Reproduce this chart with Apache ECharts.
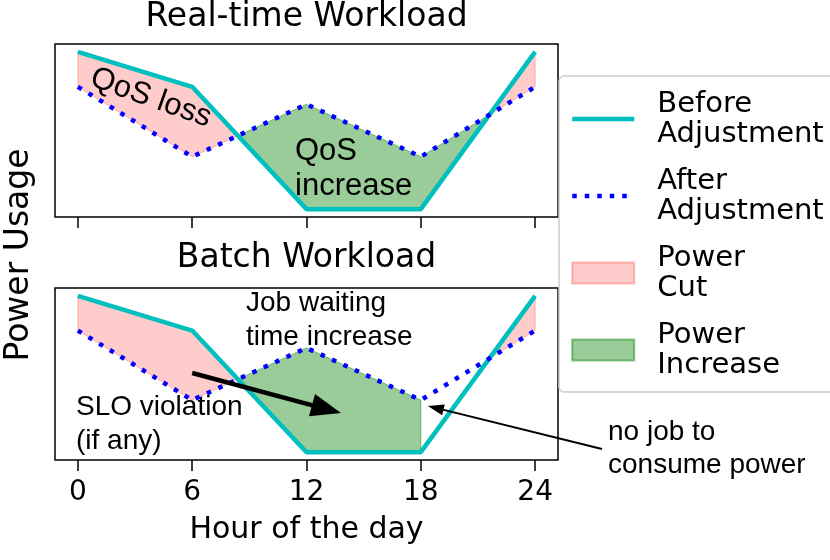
<!DOCTYPE html>
<html>
<head>
<meta charset="utf-8">
<script src="https://cdn.jsdelivr.net/npm/echarts@6/dist/echarts.min.js"></script>
<style>
html,body{margin:0;padding:0;background:#fff;}
#chart{width:830px;height:560px;}
</style>
</head>
<body>
<div id="chart"></div>
<script>
var hours=[0,6,12,18,24];
var beforePower=[10,8,1,1,10];
var afterPower=[8,4,7,4,8];
var xTickValues=[0,6,12,18,24];
var batchFillUntil=18;
var panelTitles=['Real-time Workload','Batch Workload'];
var seriesNames=['Before Adjustment','After Adjustment','Power Cut','Power Increase'];

var CYAN='#00bfbf', BLUE='#0000ff';
var PINK='rgba(255,0,0,0.2)', GREEN='rgba(0,128,0,0.4)';
var DEJAVU='DejaVu Sans', ARIAL='Liberation Sans';

// points of both curves, with the places where they cross added (like fill_between interpolate)
function withCrossings(xs,b,a){
  var pts=[];
  for(var i=0;i<xs.length;i++){
    pts.push([xs[i],b[i],a[i]]);
    if(i<xs.length-1){
      var d0=b[i]-a[i], d1=b[i+1]-a[i+1];
      if(d0*d1<0){
        var t=d0/(d0-d1);
        var x=xs[i]+t*(xs[i+1]-xs[i]);
        var y=b[i]+t*(b[i+1]-b[i]);
        pts.push([x,y,y]);
      }
    }
  }
  return pts;
}

function regions(pts,test){
  var out=[],run=[];
  for(var i=0;i<pts.length;i++){
    if(test(pts[i])) run.push(pts[i]);
    else { if(run.length>1) out.push(run); run=[]; }
  }
  if(run.length>1) out.push(run);
  return out.map(function(r){
    var poly=r.map(function(p){return [p[0],p[1]];});
    for(var j=r.length-1;j>=0;j--) poly.push([r[j][0],r[j][2]]);
    return poly;
  });
}

var pts=withCrossings(hours,beforePower,afterPower);
var cutPolys=regions(pts,function(p){return p[1]>=p[2];});
var incTopPolys=regions(pts,function(p){return p[2]>=p[1];});
var incBottomPolys=regions(pts,function(p){return p[2]>=p[1] && p[0]<=batchFillUntil;});

function fillSeries(name,polys,idx,fill,stroke){
  return {
    name:name,type:'custom',xAxisIndex:idx,yAxisIndex:idx,silent:true,z:1,
    itemStyle:{color:fill},
    data:polys.map(function(p,i){return [p[0][0],p[0][1],i];}),
    renderItem:function(params,api){
      var poly=polys[params.dataIndex];
      return {
        type:'polygon',
        shape:{points:poly.map(function(p){return api.coord(p);})},
        style:{fill:fill,stroke:stroke,lineWidth:1}
      };
    }
  };
}

function lineSeries(name,values,idx,style,z){
  return {
    name:name,type:'line',xAxisIndex:idx,yAxisIndex:idx,silent:true,z:z,
    symbol:'none',
    data:hours.map(function(h,i){return [h,values[i]];}),
    lineStyle:style,itemStyle:{color:style.color}
  };
}

var beforeStyle={color:CYAN,width:4.5};
var afterStyle={color:BLUE,width:4.5,type:[4.5,8]};

var series=[
  fillSeries('Power Cut',cutPolys,0,PINK,'rgba(255,0,0,0.25)'),
  fillSeries('Power Increase',incTopPolys,0,GREEN,'rgba(0,128,0,0.45)'),
  lineSeries('Before Adjustment',beforePower,0,beforeStyle,3),
  lineSeries('After Adjustment',afterPower,0,afterStyle,4),
  fillSeries('Power Cut',cutPolys,1,PINK,'rgba(255,0,0,0.25)'),
  fillSeries('Power Increase',incBottomPolys,1,GREEN,'rgba(0,128,0,0.45)'),
  lineSeries('Before Adjustment',beforePower,1,beforeStyle,3),
  lineSeries('After Adjustment',afterPower,1,afterStyle,4)
];

// arrows of the batch panel
series[7].clip=false;
series[7].markLine={
  silent:true,animation:false,label:{show:false},
  data:[
    [{coord:[6.0,5.56],symbol:'none'},
     {coord:[13.05,3.48],symbol:'triangle',symbolSize:[23,30],lineStyle:{color:'#000',width:4.5,type:'solid'}}],
    [{x:602,y:449,symbol:'none'},
     {coord:[18.78,3.55],symbol:'triangle',symbolSize:[11,16],lineStyle:{color:'#000',width:2,type:'solid'}}]
  ],
  lineStyle:{color:'#000',type:'solid'},
  itemStyle:{color:'#000'}
};

function xAxisOf(idx,labels){
  return {
    gridIndex:idx,type:'value',min:-1.2,max:25.2,
    axisLine:{show:false},splitLine:{show:false},
    axisTick:{show:true,customValues:xTickValues,length:11,inside:false,lineStyle:{color:'#000',width:1.5}},
    axisLabel:{show:labels,customValues:xTickValues,margin:19,fontSize:28,fontFamily:DEJAVU,color:'#000'}
  };
}
function yAxisOf(idx){
  return {
    gridIndex:idx,type:'value',min:0.55,max:10.45,
    axisLine:{show:false},axisTick:{show:false},axisLabel:{show:false},splitLine:{show:false}
  };
}

function txt(text,x,y,font,size,opts){
  var o={type:'text',x:x,y:y,silent:true,z:10,
    style:{text:text,font:size+'px "'+font+'"',fill:'#000',align:'left',verticalAlign:'top'}};
  if(opts){
    for(var k in opts.style||{}) o.style[k]=opts.style[k];
    if(opts.rotation!==undefined) o.rotation=opts.rotation;
  }
  return o;
}

var hideSymbol={color:'rgba(0,0,0,0)',opacity:0,borderWidth:0};

var option={
  animation:false,
  backgroundColor:'#fff',
  grid:[
    {left:55,top:44,width:503,height:173,show:true,borderColor:'#000',borderWidth:1.5,backgroundColor:'transparent',outerBoundsMode:'none'},
    {left:55,top:288,width:503,height:172,show:true,borderColor:'#000',borderWidth:1.5,backgroundColor:'transparent',outerBoundsMode:'none'}
  ],
  xAxis:[xAxisOf(0,false),xAxisOf(1,true)],
  yAxis:[yAxisOf(0),yAxisOf(1)],
  legend:{
    orient:'vertical',left:558,top:76,padding:[13,12,12,12],itemGap:17,
    itemWidth:62,itemHeight:21,z:6,
    backgroundColor:'transparent',borderWidth:0,
    selectedMode:false,
    textStyle:{fontFamily:DEJAVU,fontSize:29,lineHeight:30,color:'#000',padding:[0,0,0,18]},
    formatter:function(n){return n.replace(' ','\n');},
    lineStyle:{width:4.5},
    data:[
      {name:seriesNames[0],itemStyle:hideSymbol},
      {name:seriesNames[1],itemStyle:hideSymbol},
      {name:seriesNames[2],icon:'rect',itemStyle:{color:PINK,borderColor:'rgba(255,0,0,0.25)',borderWidth:2}},
      {name:seriesNames[3],icon:'rect',itemStyle:{color:GREEN,borderColor:'rgba(0,128,0,0.45)',borderWidth:2}}
    ]
  },
  graphic:[
    // legend frame, running off the right edge as in the source figure
    {type:'rect',x:559,y:76,z:5,silent:true,shape:{width:300,height:316,r:5},
      style:{fill:'#fff',stroke:'#cccccc',lineWidth:1.5}},
    txt(panelTitles[0],306.5,17,DEJAVU,33,{style:{align:'center',verticalAlign:'middle'}}),
    txt(panelTitles[1],306.5,258,DEJAVU,33,{style:{align:'center',verticalAlign:'middle'}}),
    txt('Power Usage',19,255,DEJAVU,33,{rotation:Math.PI/2,style:{align:'center',verticalAlign:'middle'}}),
    txt('Hour of the day',306.5,530,DEJAVU,30,{style:{align:'center',verticalAlign:'middle'}}),
    txt('QoS loss',151,98,ARIAL,31,{rotation:-0.34,style:{align:'center',verticalAlign:'middle'}}),
    txt('QoS\nincrease',295,134,ARIAL,31,{style:{lineHeight:35}}),
    txt('Job waiting\ntime increase',246,286,ARIAL,28,{style:{lineHeight:34}}),
    txt('SLO violation\n(if any)',76,390,ARIAL,28,{style:{lineHeight:34}}),
    txt('no job to\nconsume power',608,416,ARIAL,28,{style:{lineHeight:33}})
  ],
  series:series
};

var chart=echarts.init(document.getElementById('chart'),null,{renderer:'canvas'});
chart.setOption(option);
</script>
</body>
</html>
